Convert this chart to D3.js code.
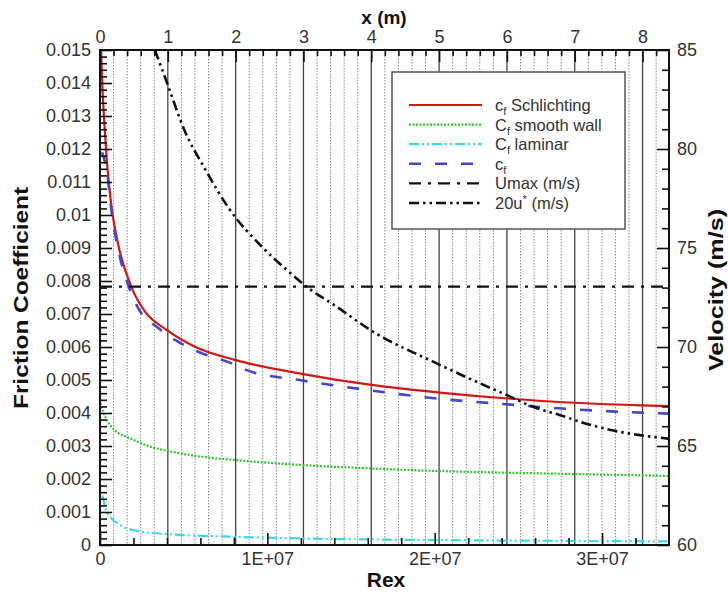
<!DOCTYPE html>
<html>
<head>
<meta charset="utf-8">
<script src="https://cdn.jsdelivr.net/npm/d3@7/dist/d3.min.js"></script>
<style>
  html, body { margin: 0; padding: 0; background: #fff; }
  svg { display: block; font-family: "Liberation Sans", Arial, Helvetica, sans-serif; }
</style>
</head>
<body>
<svg id="chart" width="728" height="592"></svg>
<script>
// ---- Data: skin-friction coefficients vs. Reynolds number Rex ----
const schlichtingRex = [6.0e4, 1.5e5, 2.7e5, 4.0e5, 7.0e5, 1.09e6, 1.89e6, 2.69e6, 3.98e6, 5.67e6, 8.06e6, 1.214e7, 1.622e7, 2.03e7, 2.438e7, 2.836e7, 3.234e7, 3.397e7];
const schlichtingCf  = [0.0150, 0.0138, 0.0127, 0.0117, 0.0102, 0.0091, 0.0078, 0.00707, 0.00652, 0.00601, 0.00561, 0.00518, 0.00485, 0.00462, 0.00444, 0.00431, 0.00423, 0.00421];

const smoothWallRex = [3.0e4, 1.0e5, 3.0e5, 6.0e5, 1.07e6, 1.59e6, 2.99e6, 3.98e6, 5.97e6, 7.96e6, 1.214e7, 1.622e7, 2.03e7, 2.438e7, 2.836e7, 3.234e7, 3.397e7];
const smoothWallCf  = [0.00430, 0.00419, 0.00390, 0.00364, 0.00340, 0.00328, 0.00298, 0.00286, 0.00268, 0.00258, 0.00242, 0.00232, 0.00224, 0.00219, 0.00215, 0.00211, 0.00209];

const laminarRex = [1.5e5, 3.6e5, 6.0e5, 1.19e6, 2.39e6, 4.36e6, 7.94e6, 1.194e7, 1.594e7, 2.006e7, 2.603e7, 3.397e7];
const laminarCf  = [0.00150, 0.00105, 0.00086, 0.00061, 0.00041, 0.00032, 0.00025, 0.00020, 0.00017, 0.00015, 0.00013, 0.00011];

const computedRex = [1.2e5, 4.2e5, 7.2e5, 1.07e6, 1.67e6, 2.29e6, 3.46e6, 4.66e6, 6.07e6, 7.64e6, 8.76e6, 1.214e7, 1.622e7, 2.03e7, 2.438e7, 2.836e7, 3.234e7, 3.397e7];
const computedCf  = [0.0119, 0.0113, 0.0100, 0.0090, 0.0079, 0.00717, 0.00658, 0.00616, 0.00581, 0.00555, 0.00530, 0.00498, 0.00468, 0.00443, 0.00426, 0.00411, 0.00401, 0.00398];

// ---- Data: velocities (right axis) ----
const umaxRex = [0, 3.4e7];
const umaxVel = [73.05, 73.05];

const uStarRex = [3.28e6, 3.98e6, 5.07e6, 6.27e6, 7.70e6, 9.75e6, 1.115e7, 1.234e7, 1.413e7, 1.632e7, 1.990e7, 2.269e7, 2.428e7, 2.587e7, 2.746e7, 2.885e7, 3.045e7, 3.224e7, 3.397e7];
const uStarVel = [85.0, 83.4, 80.9, 79.0, 77.0, 75.0, 73.9, 73.05, 72.04, 70.77, 69.26, 68.17, 67.58, 66.98, 66.57, 66.18, 65.82, 65.55, 65.37];

// ---- Axis ticks ----
const cfTicks = [0, 0.001, 0.002, 0.003, 0.004, 0.005, 0.006, 0.007, 0.008, 0.009, 0.010, 0.011, 0.012, 0.013, 0.014, 0.015];
const cfTickLabels = ["0", "0.001", "0.002", "0.003", "0.004", "0.005", "0.006", "0.007", "0.008", "0.009", "0.01", "0.011", "0.012", "0.013", "0.014", "0.015"];
const rexTicks = [0, 1e7, 2e7, 3e7];
const rexTickLabels = ["0", "1E+07", "2E+07", "3E+07"];
const meterTicks = [0, 1, 2, 3, 4, 5, 6, 7, 8];
const velocityTicks = [60, 65, 70, 75, 80, 85];

// ---- Layout ----
const svg = d3.select("#chart");
const L = 100, R = 669, T = 50, B = 545;

const xRex = d3.scaleLinear().domain([0, 3.4e7]).range([L, R]);
const xMeter = d3.scaleLinear().domain([0, 8.39]).range([L, R]);
const yCf = d3.scaleLinear().domain([0, 0.015]).range([B, T]);
const yVel = d3.scaleLinear().domain([60, 85]).range([B, T]);

svg.append("defs").append("clipPath").attr("id", "plotClip")
  .append("rect").attr("x", L).attr("y", T).attr("width", R - L).attr("height", B - T);

// ---- Vertical grid: solid at every metre, dotted every 0.2 m ----
const minorMeters = d3.range(1, 42).map(i => i / 5).filter(v => Math.abs(v - Math.round(v)) > 1e-6);
const grid = svg.append("g");
grid.selectAll("line.minor").data(minorMeters).join("line")
  .attr("x1", d => xMeter(d)).attr("x2", d => xMeter(d))
  .attr("y1", T).attr("y2", B)
  .attr("stroke", "#8a8a8a").attr("stroke-width", 1).attr("stroke-dasharray", "1.5,1.5");
grid.selectAll("line.major").data(meterTicks.filter(d => d > 0)).join("line")
  .attr("x1", d => xMeter(d)).attr("x2", d => xMeter(d))
  .attr("y1", T).attr("y2", B)
  .attr("stroke", "#444").attr("stroke-width", 1.3);

// ---- Curves ----
const plot = svg.append("g").attr("clip-path", "url(#plotClip)");
const cfLine = d3.line().x(d => xRex(d[0])).y(d => yCf(d[1])).curve(d3.curveMonotoneX);
const velLine = d3.line().x(d => xRex(d[0])).y(d => yVel(d[1])).curve(d3.curveMonotoneX);

const series = [
  { rex: laminarRex, val: laminarCf, gen: cfLine, color: "#3cd8e8", width: 2.2, dash: "10,3,2,3,2,3" },
  { rex: smoothWallRex, val: smoothWallCf, gen: cfLine, color: "#2ec82e", width: 2.2, dash: "2,1.5" },
  { rex: schlichtingRex, val: schlichtingCf, gen: cfLine, color: "#d21515", width: 2.2, dash: null },
  { rex: computedRex, val: computedCf, gen: cfLine, color: "#4646c8", width: 2.6, dash: "12,14" },
  { rex: umaxRex, val: umaxVel, gen: velLine, color: "#111", width: 2.4, dash: "12,7,3,7" },
  { rex: uStarRex, val: uStarVel, gen: velLine, color: "#111", width: 2.6, dash: "10,4,2.5,4,2.5,4" }
];
series.forEach(s => {
  plot.append("path")
    .attr("d", s.gen(s.rex.map((r, i) => [r, s.val[i]])))
    .attr("fill", "none")
    .attr("stroke", s.color)
    .attr("stroke-width", s.width)
    .attr("stroke-dasharray", s.dash);
});

// ---- Legend ----
const legend = svg.append("g");
legend.append("rect").attr("x", 392).attr("y", 72).attr("width", 233).attr("height", 157)
  .attr("fill", "#fff").attr("stroke", "#555").attr("stroke-width", 1.5);
const legendItems = [
  { s: series[2], parts: [["c", 0], ["f", 1], [" Schlichting", 0]] },
  { s: series[1], parts: [["C", 0], ["f", 1], [" smooth wall", 0]] },
  { s: series[0], parts: [["C", 0], ["f", 1], [" laminar", 0]] },
  { s: series[3], parts: [["c", 0], ["f", 1]] },
  { s: series[4], parts: [["Umax (m/s)", 0]] },
  { s: series[5], parts: [["20u", 0], ["*", -1], [" (m/s)", 0]] }
];
legendItems.forEach((it, i) => {
  const y = 105 + i * 19.6;
  legend.append("line").attr("x1", 409).attr("x2", 482).attr("y1", y).attr("y2", y)
    .attr("stroke", it.s.color).attr("stroke-width", it.s.width).attr("stroke-dasharray", it.s.dash);
  const t = legend.append("text").attr("x", 495).attr("y", y + 6)
    .attr("font-size", 16.5).attr("fill", "#333");
  let shift = 0;
  it.parts.forEach(([txt, mode]) => {
    const target = mode === 1 ? 4 : (mode === -1 ? -6 : 0);
    const sp = t.append("tspan").text(txt).attr("dy", target - shift);
    if (mode !== 0) sp.attr("font-size", 11);
    shift = target;
  });
});

// ---- Frame ----
svg.append("rect").attr("x", L).attr("y", T).attr("width", R - L).attr("height", B - T)
  .attr("fill", "none").attr("stroke", "#111").attr("stroke-width", 2);

// ---- Axes (ticks point into the plot) ----
function styleAxis(g) {
  g.select(".domain").remove();
  g.selectAll(".tick line").attr("stroke", "#111").attr("stroke-width", 1.6);
  g.selectAll(".tick text").attr("fill", "#333").attr("font-size", 18)
    .attr("font-family", "'Liberation Sans', Arial, sans-serif");
}

// left: friction coefficient
const cfMinor = d3.range(0, 76).map(i => i * 0.0002).filter(v => Math.abs(v * 1000 - Math.round(v * 1000)) > 1e-6);
svg.append("g").attr("transform", `translate(${L},0)`)
  .call(d3.axisLeft(yCf).tickValues(cfMinor).tickSize(-7).tickFormat(""))
  .call(styleAxis);
svg.append("g").attr("transform", `translate(${L},0)`)
  .call(d3.axisLeft(yCf).tickValues(cfTicks).tickSize(-12).tickPadding(9)
    .tickFormat((d, i) => cfTickLabels[i]))
  .call(styleAxis);

// bottom: Rex
const rexMinor = d3.range(1, 17).map(i => i * 2e6).filter(v => v % 1e7 !== 0);
svg.append("g").attr("transform", `translate(0,${B})`)
  .call(d3.axisBottom(xRex).tickValues(rexMinor).tickSize(-7).tickFormat(""))
  .call(styleAxis);
svg.append("g").attr("transform", `translate(0,${B})`)
  .call(d3.axisBottom(xRex).tickValues(rexTicks).tickSize(-12).tickPadding(7)
    .tickFormat((d, i) => rexTickLabels[i]))
  .call(styleAxis);

// top: x (m)
svg.append("g").attr("transform", `translate(0,${T})`)
  .call(d3.axisTop(xMeter).tickValues(minorMeters).tickSize(-6).tickFormat(""))
  .call(styleAxis);
svg.append("g").attr("transform", `translate(0,${T})`)
  .call(d3.axisTop(xMeter).tickValues(meterTicks).tickSize(-12).tickPadding(7).tickFormat(d3.format("d")))
  .call(styleAxis);

// right: velocity
const velMinor = d3.range(61, 85).filter(v => v % 5 !== 0);
svg.append("g").attr("transform", `translate(${R},0)`)
  .call(d3.axisRight(yVel).tickValues(velMinor).tickSize(-7).tickFormat(""))
  .call(styleAxis);
svg.append("g").attr("transform", `translate(${R},0)`)
  .call(d3.axisRight(yVel).tickValues(velocityTicks).tickSize(-12).tickPadding(8).tickFormat(d3.format("d")))
  .call(styleAxis);

// ---- Axis titles ----
const titleFont = "'Liberation Sans', Arial, sans-serif";
svg.append("text").attr("x", 386).attr("y", 587).attr("text-anchor", "middle")
  .attr("font-size", 21).attr("font-weight", "bold").attr("font-family", titleFont).attr("fill", "#111")
  .text("Rex");
svg.append("text").attr("x", 384).attr("y", 24).attr("text-anchor", "middle")
  .attr("font-size", 19).attr("font-weight", "bold").attr("font-family", titleFont).attr("fill", "#111")
  .text("x (m)");
svg.append("text").attr("transform", "translate(28,298) rotate(-90)").attr("text-anchor", "middle")
  .attr("font-size", 21).attr("font-weight", "bold").attr("font-family", titleFont).attr("fill", "#111")
  .attr("textLength", 222).attr("lengthAdjust", "spacingAndGlyphs")
  .text("Friction Coefficient");
svg.append("text").attr("transform", "translate(723,290) rotate(-90)").attr("text-anchor", "middle")
  .attr("font-size", 20).attr("font-weight", "bold").attr("font-family", titleFont).attr("fill", "#111")
  .attr("textLength", 162).attr("lengthAdjust", "spacingAndGlyphs")
  .text("Velocity (m/s)");
</script>
</body>
</html>
